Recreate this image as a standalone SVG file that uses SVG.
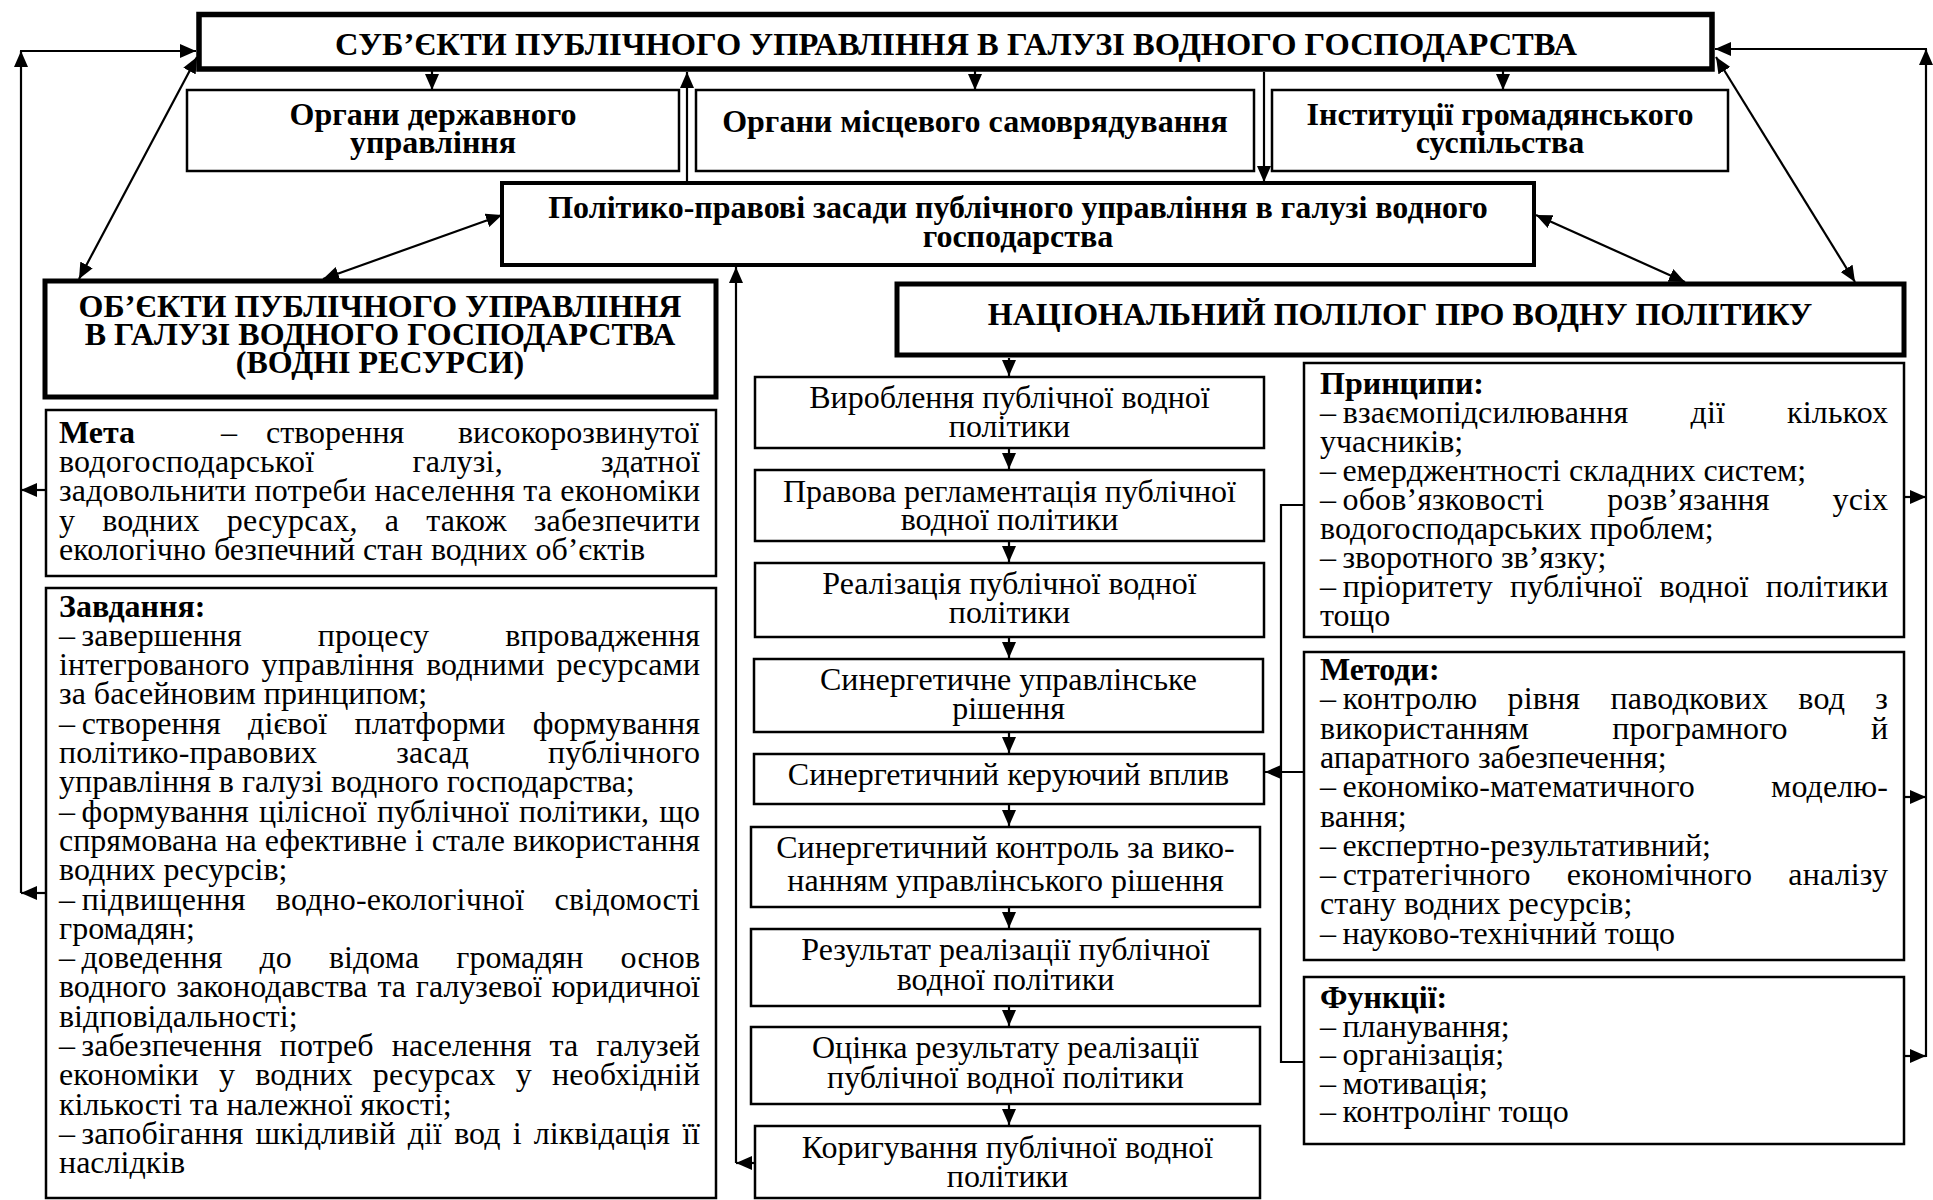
<svg xmlns="http://www.w3.org/2000/svg" width="1933" height="1200" viewBox="0 0 1933 1200">
<style>
.t{font-family:"Liberation Serif","Times New Roman",serif;font-size:32px;fill:#000}
.b{font-weight:bold}
.c{text-anchor:middle}
.box{fill:#fff;stroke:#000;stroke-width:2.5}
.thick{stroke-width:5}
.ln{fill:none;stroke:#000;stroke-width:2.2}
.ar{marker-end:url(#ah)}
.dar{marker-start:url(#ah);marker-end:url(#ah)}
</style>
<defs>
<marker id="ah" markerUnits="userSpaceOnUse" markerWidth="16" markerHeight="14" viewBox="0 0 16 14" refX="16" refY="7" orient="auto-start-reverse">
<path d="M0,0 L16,7 L0,14 z" fill="#000"/>
</marker>
</defs>
<rect width="1933" height="1200" fill="#fff"/>

<g id="connectors">
<path class="ln ar" d="M46,490 H21"/>
<path class="ln ar" d="M46,893 H21"/>
<path class="ln ar" d="M21,893 V51"/>
<path class="ln ar" d="M20,51 H196"/>
<path class="ln ar" d="M1926,1057 V49"/>
<path class="ln ar" d="M1927,49 H1715"/>
<path class="ln ar" d="M1904,497 H1926"/>
<path class="ln ar" d="M1904,797 H1926"/>
<path class="ln ar" d="M1904,1056 H1926"/>
<path class="ln ar" d="M432,71 V90"/>
<path class="ln ar" d="M975,71 V90"/>
<path class="ln ar" d="M1503,71 V90"/>
<path class="ln ar" d="M687,182 V72"/>
<path class="ln ar" d="M1264,72 V182"/>
<path class="ln dar" d="M197,57 L79,279"/>
<path class="ln dar" d="M502,215 L323,279"/>
<path class="ln dar" d="M1536,215 L1685,282"/>
<path class="ln dar" d="M1716,57 L1855,282"/>
<path class="ln ar" d="M755,1163 H736"/>
<path class="ln ar" d="M736,1163 V267"/>
<path class="ln ar" d="M1009,358 V376"/>
<path class="ln ar" d="M1009,449 V469"/>
<path class="ln ar" d="M1009,542 V562"/>
<path class="ln ar" d="M1009,638 V658"/>
<path class="ln ar" d="M1009,733 V753"/>
<path class="ln ar" d="M1009,805 V826"/>
<path class="ln ar" d="M1009,908 V928"/>
<path class="ln ar" d="M1009,1007 V1026"/>
<path class="ln ar" d="M1009,1105 V1125"/>
<path class="ln" d="M1304,505 H1281 V1062 H1304"/>
<path class="ln ar" d="M1304,772 H1265"/>
</g>

<g id="subjects">
<rect class="box" x="199" y="14.5" width="1513" height="54.5" style="stroke-width:5.5"/>
<text class="t b c" x="956" y="55" style="font-size:32.5px">СУБ’ЄКТИ ПУБЛІЧНОГО УПРАВЛІННЯ В ГАЛУЗІ ВОДНОГО ГОСПОДАРСТВА</text>
</g>

<g id="state-bodies">
<rect class="box" x="187" y="90" width="492" height="81"/>
<text class="t b c" x="433" y="125">Органи державного</text>
<text class="t b c" x="433" y="153">управління</text>
</g>

<g id="local-bodies">
<rect class="box" x="696" y="90" width="558" height="81"/>
<text class="t b c" x="975" y="132">Органи місцевого самоврядування</text>
</g>

<g id="civil-society">
<rect class="box" x="1272" y="90" width="456" height="81"/>
<text class="t b c" x="1500" y="125">Інституції громадянського</text>
<text class="t b c" x="1500" y="153">суспільства</text>
</g>

<g id="policy-basis">
<rect class="box" x="502" y="183" width="1032" height="82" style="stroke-width:4"/>
<text class="t b c" x="1018" y="218">Політико-правові засади публічного управління в галузі водного</text>
<text class="t b c" x="1018" y="247">господарства</text>
</g>

<g id="objects">
<rect class="box thick" x="45" y="281" width="671" height="116"/>
<text class="t b c" x="380" y="317">ОБ’ЄКТИ ПУБЛІЧНОГО УПРАВЛІННЯ</text>
<text class="t b c" x="380" y="345">В ГАЛУЗІ ВОДНОГО ГОСПОДАРСТВА</text>
<text class="t b c" x="380" y="373">(ВОДНІ РЕСУРСИ)</text>
</g>

<g id="national-polylog">
<rect class="box thick" x="897" y="284" width="1007" height="71"/>
<text class="t b c" x="1400" y="325">НАЦІОНАЛЬНИЙ ПОЛІЛОГ ПРО ВОДНУ ПОЛІТИКУ</text>
</g>

<g id="goal">
<rect class="box" x="46" y="410" width="670" height="166"/>
<text class="t" y="443"><tspan x="59" class="b">Мета</tspan><tspan x="221">–</tspan><tspan x="266">створення</tspan><tspan x="458">високорозвинутої</tspan></text>
<text class="t" x="59" y="472" textLength="641" lengthAdjust="spacing" style="word-spacing:90px">водогосподарської галузі, здатної</text>
<text class="t" x="59" y="501.3" textLength="641" lengthAdjust="spacing">задовольнити потреби населення та економіки</text>
<text class="t" x="59" y="530.6" textLength="641" lengthAdjust="spacing" style="word-spacing:19px">у водних ресурсах, а також забезпечити</text>
<text class="t" x="59" y="559.9">екологічно безпечний стан водних об’єктів</text>
</g>

<g id="tasks">
<rect class="box" x="46" y="588" width="670" height="610"/>
<text class="t b" x="59" y="616.5">Завдання:</text>
<text class="t" x="59" y="645.8" textLength="641" lengthAdjust="spacing" style="word-spacing:68px">–&#8201;завершення процесу впровадження</text>
<text class="t" x="59" y="675.1" textLength="641" lengthAdjust="spacing" style="word-spacing:4px">інтегрованого управління водними ресурсами</text>
<text class="t" x="59" y="704.4">за басейновим принципом;</text>
<text class="t" x="59" y="733.7" textLength="641" lengthAdjust="spacing" style="word-spacing:19px">–&#8201;створення дієвої платформи формування</text>
<text class="t" x="59" y="763" textLength="641" lengthAdjust="spacing" style="word-spacing:71px">політико-правових засад публічного</text>
<text class="t" x="59" y="792.3">управління в галузі водного господарства;</text>
<text class="t" x="59" y="821.6" textLength="641" lengthAdjust="spacing" style="word-spacing:2px">–&#8201;формування цілісної публічної політики, що</text>
<text class="t" x="59" y="850.9" textLength="641" lengthAdjust="spacing">спрямована на ефективне і стале використання</text>
<text class="t" x="59" y="880.2">водних ресурсів;</text>
<text class="t" x="59" y="909.5" textLength="641" lengthAdjust="spacing" style="word-spacing:22px">–&#8201;підвищення водно-екологічної свідомості</text>
<text class="t" x="59" y="938.8">громадян;</text>
<text class="t" x="59" y="968.1" textLength="641" lengthAdjust="spacing" style="word-spacing:29px">–&#8201;доведення до відома громадян основ</text>
<text class="t" x="59" y="997.4" textLength="641" lengthAdjust="spacing" style="word-spacing:2px">водного законодавства та галузевої юридичної</text>
<text class="t" x="59" y="1026.7">відповідальності;</text>
<text class="t" x="59" y="1056" textLength="641" lengthAdjust="spacing" style="word-spacing:10px">–&#8201;забезпечення потреб населення та галузей</text>
<text class="t" x="59" y="1085.3" textLength="641" lengthAdjust="spacing" style="word-spacing:12px">економіки у водних ресурсах у необхідній</text>
<text class="t" x="59" y="1114.6">кількості та належної якості;</text>
<text class="t" x="59" y="1143.9" textLength="641" lengthAdjust="spacing" style="word-spacing:4px">–&#8201;запобігання шкідливій дії вод і ліквідація її</text>
<text class="t" x="59" y="1173.2">наслідків</text>
</g>

<g id="step1">
<rect class="box" x="755" y="377" width="509" height="71"/>
<text class="t c" x="1009.5" y="408">Вироблення публічної водної</text>
<text class="t c" x="1009.5" y="437">політики</text>
</g>
<g id="step2">
<rect class="box" x="755" y="470" width="509" height="71"/>
<text class="t c" x="1009.5" y="502">Правова регламентація публічної</text>
<text class="t c" x="1009.5" y="530">водної політики</text>
</g>
<g id="step3">
<rect class="box" x="755" y="563" width="509" height="74"/>
<text class="t c" x="1009.5" y="594">Реалізація публічної водної</text>
<text class="t c" x="1009.5" y="623">політики</text>
</g>
<g id="step4">
<rect class="box" x="754" y="659" width="509" height="73"/>
<text class="t c" x="1008.5" y="690">Синергетичне управлінське</text>
<text class="t c" x="1008.5" y="719">рішення</text>
</g>
<g id="step5">
<rect class="box" x="754" y="754" width="510" height="50"/>
<text class="t c" x="1008.5" y="785">Синергетичний керуючий вплив</text>
</g>
<g id="step6">
<rect class="box" x="751" y="827" width="509" height="80"/>
<text class="t c" x="1005.5" y="858">Синергетичний контроль за вико-</text>
<text class="t c" x="1005.5" y="891">нанням управлінського рішення</text>
</g>
<g id="step7">
<rect class="box" x="751" y="929" width="509" height="77"/>
<text class="t c" x="1005.5" y="960">Результат реалізації публічної</text>
<text class="t c" x="1005.5" y="990">водної політики</text>
</g>
<g id="step8">
<rect class="box" x="751" y="1027" width="509" height="77"/>
<text class="t c" x="1005.5" y="1058">Оцінка результату реалізації</text>
<text class="t c" x="1005.5" y="1088">публічної водної політики</text>
</g>
<g id="step9">
<rect class="box" x="755" y="1126" width="505" height="72"/>
<text class="t c" x="1007.5" y="1158">Коригування публічної водної</text>
<text class="t c" x="1007.5" y="1187">політики</text>
</g>

<g id="principles">
<rect class="box" x="1304" y="363" width="600" height="274"/>
<text class="t b" x="1320" y="394">Принципи:</text>
<text class="t" x="1320" y="423" textLength="568" lengthAdjust="spacing" style="word-spacing:54px">–&#8201;взаємопідсилювання дії кількох</text>
<text class="t" x="1320" y="452">учасників;</text>
<text class="t" x="1320" y="481">–&#8201;емерджентності складних систем;</text>
<text class="t" x="1320" y="510" textLength="568" lengthAdjust="spacing" style="word-spacing:55px">–&#8201;обов’язковості розв’язання усіх</text>
<text class="t" x="1320" y="539">водогосподарських проблем;</text>
<text class="t" x="1320" y="568">–&#8201;зворотного зв’язку;</text>
<text class="t" x="1320" y="597" textLength="568" lengthAdjust="spacing" style="word-spacing:9px">–&#8201;пріоритету публічної водної політики</text>
<text class="t" x="1320" y="626">тощо</text>
</g>

<g id="methods">
<rect class="box" x="1304" y="652" width="600" height="308"/>
<text class="t b" x="1320" y="680">Методи:</text>
<text class="t" x="1320" y="709.3" textLength="568" lengthAdjust="spacing" style="word-spacing:22px">–&#8201;контролю рівня паводкових вод з</text>
<text class="t" x="1320" y="738.6" textLength="568" lengthAdjust="spacing" style="word-spacing:75px">використанням програмного й</text>
<text class="t" x="1320" y="767.9">апаратного забезпечення;</text>
<text class="t" x="1320" y="797.2" textLength="568" lengthAdjust="spacing" style="word-spacing:68px">–&#8201;економіко-математичного моделю-</text>
<text class="t" x="1320" y="826.5">вання;</text>
<text class="t" x="1320" y="855.8">–&#8201;експертно-результативний;</text>
<text class="t" x="1320" y="885.1" textLength="568" lengthAdjust="spacing" style="word-spacing:28px">–&#8201;стратегічного економічного аналізу</text>
<text class="t" x="1320" y="914.4">стану водних ресурсів;</text>
<text class="t" x="1320" y="943.7">–&#8201;науково-технічний тощо</text>
</g>

<g id="functions">
<rect class="box" x="1304" y="977" width="600" height="167"/>
<text class="t b" x="1320" y="1008">Функції:</text>
<text class="t" x="1320" y="1036.6">–&#8201;планування;</text>
<text class="t" x="1320" y="1065.2">–&#8201;організація;</text>
<text class="t" x="1320" y="1093.8">–&#8201;мотивація;</text>
<text class="t" x="1320" y="1122.4">–&#8201;контролінг тощо</text>
</g>
</svg>
